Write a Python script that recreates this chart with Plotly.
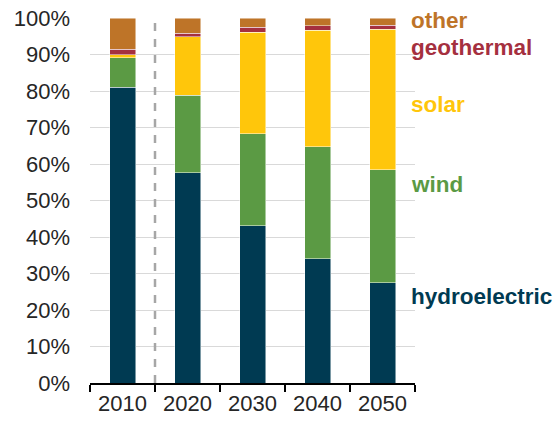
import plotly.graph_objects as go

years = ["2010", "2020", "2030", "2040", "2050"]
hydro = [81.0, 57.6, 43.1, 34.0, 27.5]
wind = [8.1, 21.2, 25.2, 30.7, 30.9]
solar = [0.8, 16.1, 27.8, 32.0, 38.5]
geothermal = [1.6, 0.9, 1.4, 1.2, 1.1]
other = [8.5, 4.2, 2.5, 2.1, 2.0]

series = [
    ("hydroelectric", hydro, "#003A52", 23.6),
    ("wind", wind, "#5B9A44", 54.5),
    ("solar", solar, "#FFC60B", 76.4),
    ("geothermal", geothermal, "#A5303F", 91.8),
    ("other", other, "#BE7428", 99.4),
]

FONT = "Liberation Sans, Arial, sans-serif"

fig = go.Figure()
for name, vals, color, _ in series:
    fig.add_trace(go.Bar(
        x=years, y=vals, name=name,
        marker=dict(color=color, line=dict(color="rgba(255,255,255,0.6)", width=0.8)),
        width=0.4,
    ))

for name, vals, color, ypos in series:
    fig.add_annotation(
        x=1, xref="paper", xanchor="left", xshift=-6,
        y=ypos, yref="y", yanchor="middle",
        text="<b>%s</b>" % name, showarrow=False,
        font=dict(family=FONT, size=22.5, color=color),
    )

fig.add_shape(
    type="line", xref="x", yref="y", x0=0.5, x1=0.5, y0=0, y1=100,
    line=dict(color="#A6A6A6", width=2.5, dash="8px,8px"),
)

fig.update_layout(
    barmode="stack",
    width=560, height=421,
    margin=dict(l=90, r=145, t=18, b=38, autoexpand=False),
    paper_bgcolor="white", plot_bgcolor="white",
    showlegend=False,
    font=dict(family=FONT, size=22, color="#262626"),
)
fig.update_xaxes(
    type="category", showline=True, linecolor="#000000", linewidth=1.5,
    ticks="outside", tickson="boundaries", ticklen=7, tickcolor="#000000", tickwidth=1.5,
    showgrid=False, tickfont=dict(size=22, color="#262626"), automargin=False,
)
fig.update_yaxes(
    range=[0, 100], dtick=10, ticksuffix="%", showgrid=True, gridcolor="#D9D9D9",
    gridwidth=1.2, zeroline=False, showline=False, ticks="", ticklabelstandoff=19,
    tickfont=dict(size=22, color="#262626"), automargin=False,
    ticklabeloverflow="allow",
)

fig.write_html(
    "out.html",
    config={"displayModeBar": False},
    post_script="document.body.style.margin='0';document.body.style.overflow='hidden';",
)
